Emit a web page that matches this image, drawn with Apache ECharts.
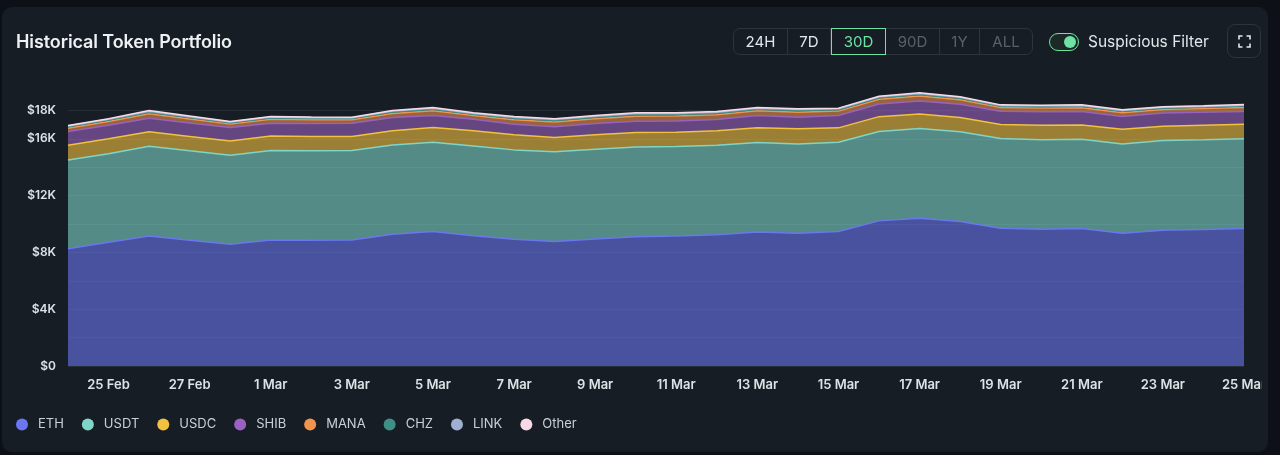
<!DOCTYPE html>
<html>
<head>
<meta charset="utf-8">
<title>Historical Token Portfolio</title>
<script src="https://cdn.jsdelivr.net/npm/echarts@6/dist/echarts.min.js"></script>
<style>
    html, body { margin: 0; padding: 0; background: #0d1117; font-family: Inter, "Noto Sans", sans-serif; }
    .card { position: absolute; left: 2px; top: 7px; width: 1266px; height: 445px; background: #171d24; border-radius: 10px; overflow: hidden; }
    /* the chart itself is clipped a bit before the card edge (last x label is cut) */
    .clip { position: absolute; left: 0; top: 0; width: 1260px; height: 445px; overflow: hidden; }
    #chart { position: absolute; left: -2px; top: -7px; width: 1280px; height: 455px; }
    .title { position: absolute; left: 14px; top: 24px; color: #eef1f4; font-size: 18px; font-weight: 600; letter-spacing: -0.1px; }
    .ranges { position: absolute; left: 731px; top: 21px; height: 27px; display: flex; border: 1px solid #2c343d; border-radius: 7px; box-sizing: border-box; }
    .ranges div { height: 25px; line-height: 26px; font-size: 15px; color: #e4e8ec; text-align: center; border-right: 1px solid #2c343d; box-sizing: border-box; }
    .ranges div:last-child { border-right: none; }
    .ranges .on { color: #6fe3a4; border: 1px solid #6fe3a4; height: 27px; margin-top: -1px; line-height: 25px; }
    .ranges .off { color: #59616a; }
    .toggle { position: absolute; left: 1047px; top: 26px; width: 30px; height: 18px; border: 1.5px solid #6fe3a4; border-radius: 10px; box-sizing: border-box; background: #1b2a26; }
    .toggle span { position: absolute; right: 2px; top: 1.5px; width: 12px; height: 12px; border-radius: 50%; background: #6fe3a4; }
    .filter { position: absolute; left: 1086px; top: 25px; font-size: 15.5px; color: #e4e8ec; }
    .full { position: absolute; left: 1225px; top: 17px; width: 34px; height: 34px; border: 1px solid #2c343d; border-radius: 8px; box-sizing: border-box; }
    .full svg { position: absolute; left: 10px; top: 10px; }
</style>
</head>
<body>
<div class="card">
    <div class="clip"><div id="chart"></div></div>
    <div class="title">Historical Token Portfolio</div>
    <div class="ranges">
        <div style="width:54px">24H</div>
        <div style="width:43px">7D</div>
        <div class="on" style="width:55px">30D</div>
        <div class="off" style="width:54px">90D</div>
        <div class="off" style="width:40px">1Y</div>
        <div class="off" style="width:52px">ALL</div>
    </div>
    <div class="toggle"><span></span></div>
    <div class="filter">Suspicious Filter</div>
    <div class="full">
        <svg width="13" height="13" viewBox="0 0 13 13" fill="none" stroke="#e4e8ec" stroke-width="1.6">
            <path d="M1 4.5V1h3.5M8.5 1H12v3.5M12 8.5V12H8.5M4.5 12H1V8.5"/>
        </svg>
    </div>
</div>
<script type="text/javascript">
    // dates (24 Feb - 25 Mar)
    var dates = ['24 Feb', '25 Feb', '26 Feb', '27 Feb', '28 Feb', '1 Mar', '2 Mar', '3 Mar', '4 Mar', '5 Mar',
        '6 Mar', '7 Mar', '8 Mar', '9 Mar', '10 Mar', '11 Mar', '12 Mar', '13 Mar', '14 Mar', '15 Mar',
        '16 Mar', '17 Mar', '18 Mar', '19 Mar', '20 Mar', '21 Mar', '22 Mar', '23 Mar', '24 Mar', '25 Mar'];

    // token values in USD
    var eth = [8250, 8720, 9160, 8860, 8570, 8880, 8860, 8880, 9280, 9470, 9180, 8930, 8760, 8950, 9110,
        9160, 9250, 9440, 9350, 9470, 10220, 10410, 10170, 9700, 9630, 9680, 9350, 9560, 9610, 9680];
    var usdt = [6250, 6230, 6320, 6300, 6280, 6290, 6290, 6290, 6290, 6290, 6320, 6290, 6320, 6320, 6320,
        6290, 6300, 6300, 6290, 6290, 6300, 6310, 6320, 6320, 6300, 6290, 6290, 6320, 6320, 6320];
    var usdc = [1050, 1050, 1010, 1000, 990, 1020, 1020, 1000, 990, 1040, 1060, 1060, 1010, 1010, 1010,
        1020, 1010, 1030, 1060, 1010, 1040, 1020, 1010, 990, 1030, 1010, 1040, 1010, 1030, 1030];
    var shib = [960, 950, 960, 960, 960, 910, 910, 930, 940, 840, 820, 750, 750, 800, 800,
        790, 800, 870, 820, 870, 890, 930, 940, 930, 940, 940, 890, 920, 910, 890];
    var mana = [240, 270, 320, 280, 240, 270, 260, 240, 285, 335, 260, 320, 340, 330, 355,
        340, 330, 330, 355, 310, 330, 340, 310, 260, 270, 270, 270, 255, 260, 290];
    var chz = [90, 95, 105, 95, 85, 95, 90, 85, 100, 110, 90, 105, 110, 110, 115,
        110, 110, 110, 115, 100, 105, 110, 100, 90, 95, 95, 95, 90, 90, 95];
    var link = [60, 65, 70, 65, 60, 65, 60, 60, 65, 70, 60, 70, 75, 75, 75,
        75, 75, 75, 75, 70, 70, 75, 70, 60, 65, 65, 65, 60, 60, 65];
    var other = [40, 40, 45, 40, 35, 40, 40, 35, 40, 45, 40, 45, 45, 45, 45,
        45, 45, 45, 45, 40, 45, 45, 40, 40, 40, 40, 40, 35, 40, 40];

    var names = ['ETH', 'USDT', 'USDC', 'SHIB', 'MANA', 'CHZ', 'LINK', 'Other'];
    var colors = ['#6a77f0', '#7fd6c8', '#f2c140', '#9a62c0', '#ee9550', '#3f8f86', '#9fb0d0', '#f9d9e6'];
    var values = [eth, usdt, usdc, shib, mana, chz, link, other];

    // y ticks: grid lines every $2K, labels only on a few
    var yLines = [0, 2000, 4000, 6000, 8000, 10000, 12000, 14000, 16000, 18000];
    var yLabels = [0, 4000, 8000, 12000, 16000, 18000];

    var myChart = echarts.init(document.getElementById('chart'));

    var series = [];
    for (var i = 0; i < names.length; i++) {
        series.push({
            name: names[i],
            type: 'line',
            stack: 'total',
            data: values[i],
            symbol: 'none',
            color: colors[i],
            lineStyle: { width: 1.5, color: colors[i] },
            areaStyle: { color: colors[i], opacity: 0.6 },
            emphasis: { disabled: true }
        });
    }

    myChart.setOption({
        animation: false,
        textStyle: { fontFamily: 'Inter' },
        grid: { left: 68, right: 36, top: 82, bottom: 89 },
        legend: {
            left: 11,
            top: 413,
            icon: 'circle',
            itemWidth: 12,
            itemHeight: 12,
            itemGap: 18,
            data: names,
            textStyle: { color: '#c9d0d7', fontSize: 13, padding: [0, 0, 0, 5] }
        },
        xAxis: {
            type: 'category',
            boundaryGap: false,
            data: dates,
            axisLine: { show: false },
            axisTick: { show: false },
            axisLabel: {
                color: '#dde2e7',
                fontSize: 13,
                fontWeight: 600,
                margin: 13,
                interval: function (idx) { return idx % 2 === 1; }
            }
        },
        yAxis: {
            type: 'value',
            min: 0,
            max: 20000,
            interval: 2000,
            axisLine: { show: false },
            axisTick: { show: false, customValues: yLines },
            axisLabel: {
                customValues: yLabels,
                color: '#dde2e7',
                fontSize: 12,
                fontWeight: 600,
                margin: 12,
                formatter: function (v) { return v === 0 ? '$0' : '$' + (v / 1000) + 'K'; }
            },
            splitLine: { lineStyle: { color: 'rgba(120,170,190,0.13)', width: 1 } }
        },
        series: series
    });
</script>
</body>
</html>
